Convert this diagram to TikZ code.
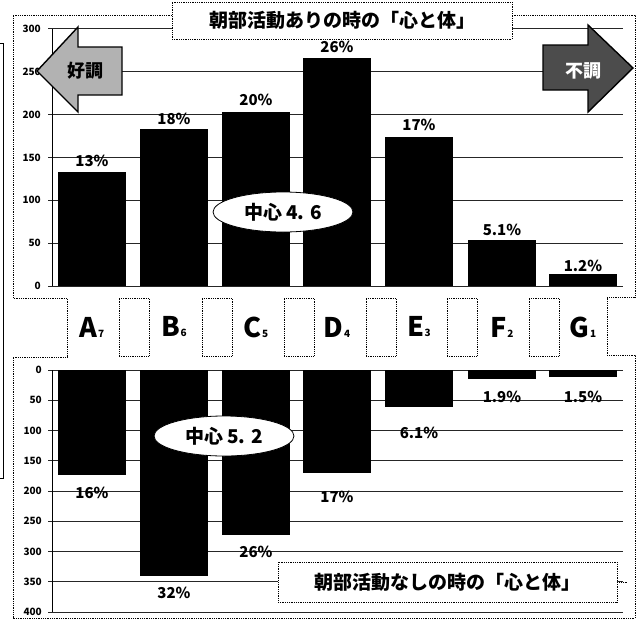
\documentclass[tikz,border=0pt]{standalone}
\usepackage{fontspec}
\setmainfont{Noto Sans CJK JP}
\usetikzlibrary{shapes.geometric}

\begin{document}
\begin{tikzpicture}[x=1pt,y=-1pt,
    frame/.style={densely dotted, line width=0.8pt},
    grid/.style={black!85, line width=0.9pt},
    pct/.style={font=\bfseries\fontsize{15}{15}\selectfont, inner sep=1pt},
    ticklab/.style={font=\bfseries\fontsize{10}{10}\selectfont, anchor=east, inner sep=1pt},
    cat/.style={font=\bfseries\fontsize{27}{27}\selectfont, inner sep=0pt},
    title/.style={draw, densely dotted, line width=0.8pt, font=\bfseries\fontsize{19}{19}\selectfont},
    centre/.style={ellipse, draw, fill=white, line width=0.8pt, minimum width=140pt, minimum height=40pt, inner sep=0pt, font=\bfseries\fontsize{19}{19}\selectfont},
    gapbox/.style={draw, densely dotted, line width=0.8pt, minimum width=30pt, minimum height=58pt, inner sep=0pt},
    arrowlab/.style={font=\bfseries\fontsize{18}{18}\selectfont, inner sep=0pt}]

    \useasboundingbox (0,0) rectangle (642,621);

    \draw[frame] (172,15) -- (13,15) -- (13,298) -- (67,298) -- (67,357) -- (13,357) -- (13,618)
        -- (635,618) -- (635,355) -- (607,355) -- (607,297) -- (635,297) -- (635,15) -- (512,15);
    \draw[line width=0.8pt] (0,43) -- (3,43) -- (3,478) -- (0,478);

    \foreach \v in {0,50,...,300}
    {
        \draw[grid] (48,{286-0.857*\v}) -- (623,{286-0.857*\v});
        \node[ticklab] at (42,{286-0.857*\v}) {\v};
    }
    \foreach \v in {0,50,...,400}
    {
        \draw[grid] (48,{370+0.605*\v}) -- (623,{370+0.605*\v});
        \node[ticklab] at (43,{370+0.605*\v}) {\v};
    }
    \draw[line width=0.9pt] (52,29) -- (52,286);
    \draw[line width=0.9pt] (52,370) -- (52,612);

    \foreach \n/\s/\x/\t/\tl/\tp/\b/\bl/\bp in {
        A/7/92/133/161/13/174/493/16,
        B/6/174/183/119/18/340/593/32,
        C/5/256/203/100/20/273/552/26,
        D/4/337/266/47/26/170/497/17,
        E/3/419/174/125/17/61/433/6.1,
        F/2/502/54/230/5.1/15/397/1.9,
        G/1/583/14/266/1.2/12/397/1.5}
    {
        \fill (\x-34,286) rectangle (\x+34,{286-0.857*\t});
        \fill (\x-34,370) rectangle (\x+34,{370+0.605*\b});
        \node[pct] (top\n) at (\x,\tl) {\tp\%};
        \node[pct] (bot\n) at (\x,\bl) {\bp\%};
        \node[cat] (cat\n) at (\x,327) {\n\kern0.5pt{\fontsize{10}{10}\selectfont\s}};
    }
    \foreach \g in {134,217,299,381,462,544}
        \node[gapbox] (gap\g) at (\g,327) {};

    \node[centre] (midtop) at (283,212) {中心 4. 6};
    \node[centre] (midbot) at (224,436) {中心 5. 2};

    \fill[black!30, draw=black, line width=1.4pt] (37,71) -- (78,27) -- (78,47) -- (122,47)
        -- (122,95) -- (78,95) -- (78,112) -- cycle;
    \node[arrowlab] (good) at (85,71) {好調};
    \fill[black!70, draw=black, line width=1.4pt] (633,68) -- (588,25) -- (588,45) -- (543,45)
        -- (543,90) -- (588,90) -- (588,112) -- cycle;
    \node[arrowlab, text=white] (bad) at (583,71) {不調};

    \node[title, fill=white, minimum width=340pt, minimum height=37pt] (toptitle) at (342,20.5)
        {朝部活動ありの時の「心と体」};
    \node[title, fill=white, minimum width=339pt, minimum height=40pt] (bottitle) at (447.5,582)
        {朝部活動なしの時の「心と体」};
    \draw[frame] (bottitle.east) -- ++(10,0);
\end{tikzpicture}
\end{document}
